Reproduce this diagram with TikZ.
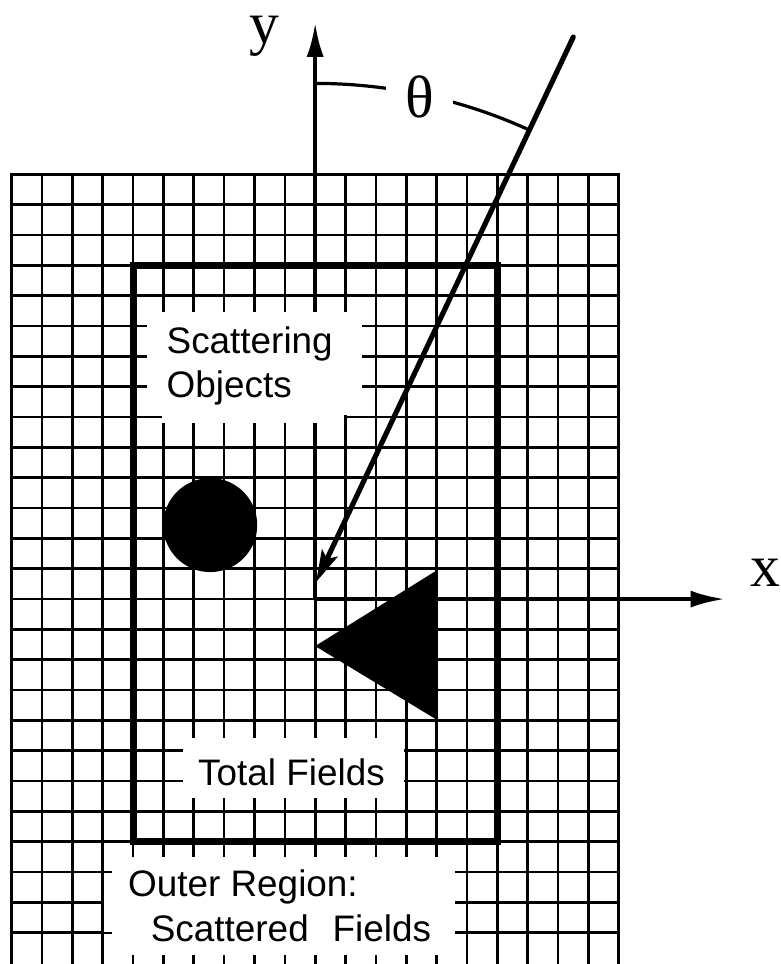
\documentclass[tikz,border=0pt]{standalone}
\usepackage{fontspec}
\setmainfont{Liberation Sans}
\newfontfamily\achsenfont{Liberation Serif}
\usetikzlibrary{arrows.meta}

\begin{document}
\begin{tikzpicture}[x=0.5cm, y=0.5cm,
    every node/.style={font=\fontsize{17.3}{20.8}\selectfont, inner sep=0pt},
    gitter/.style={line width=1.25pt, line cap=rect},
    rand/.style={line width=3.4pt},
    achse/.style={line width=1.9pt, -{Latex[length=16pt,width=8pt]}},
    welle/.style={line width=2.4pt, line cap=round, -{Stealth[length=15pt,width=8pt,inset=3pt]}},
    leer/.style={fill=white},
    beschriftung/.style={font=\achsenfont\fontsize{28}{34}\selectfont}]
        % Rahmen
        \useasboundingbox (-10.39,-12.03) rectangle (15.33,19.75);
        \clip (-10.39,-12.03) rectangle (15.33,19.75);

        % Gitter
        \foreach \x in {-10,...,10}
            \draw[gitter] (\x,14) -- (\x,-12.5);
        \foreach \y in {14,13,...,-11}
            \draw[gitter] (-10,\y) -- (10,\y);

        % Achsen
        \coordinate (O) at (0,0);
        \coordinate (xend) at (13.5,0);
        \coordinate (yend) at (0,19);
        \draw[achse] (O) -- (xend);
        \draw[achse] (O) -- (yend);

        % Einfallende Welle
        \coordinate (quelle) at (8.51,18.53);
        \coordinate (ziel) at (0.03,0.56);
        \draw[welle] (quelle) -- (ziel);

        % Winkel
        \draw[line width=1.5pt] (0,17) arc[start angle=90, end angle=65.4, radius=17];
        \node[beschriftung, fill=white, inner xsep=9pt] (theta) at (3.45,16.55) {θ};

        % Streukoerper
        \fill (-3.46,2.44) circle[radius=1.55];
        \fill (0,-1.55) -- (4.03,0.96) -- (4.03,-3.99) -- cycle;

        % Grenze Totalfeld
        \draw[rand] (-6,-8) rectangle (6,11);

        % Freiflaechen
        \fill[leer] (-5.54,6.06) rectangle (1.55,9.46);
        \fill[leer] (-5.05,5.8) rectangle (0.95,6.1);
        \fill[leer] (-4.36,-6.56) rectangle (2.93,-4.58);
        \fill[leer] (-6.7,-11.73) rectangle (4.62,-8.5);
        \fill[leer] (-6.96,-10.97) rectangle (-6.6,-9.13);

        % Beschriftungen
        \node[anchor=base west] (streu1) at (-4.91,8.11) {Scattering};
        \node[anchor=base west] (streu2) at (-4.91,6.63) {Objects};
        \node[anchor=base west] (total) at (-3.87,-6.13) {Total Fields};
        \node[anchor=base west] (aussen1) at (-6.18,-9.79) {Outer Region:};
        \node[anchor=base west] (aussen2) at (-5.43,-11.28) {Scattered\hspace{0.65em}Fields};

        \node[beschriftung, anchor=base] (ylabel) at (-1.67,18.33) {y};
        \node[beschriftung, anchor=base] (xlabel) at (14.85,0.40) {x};
    \end{tikzpicture}
\end{document}
